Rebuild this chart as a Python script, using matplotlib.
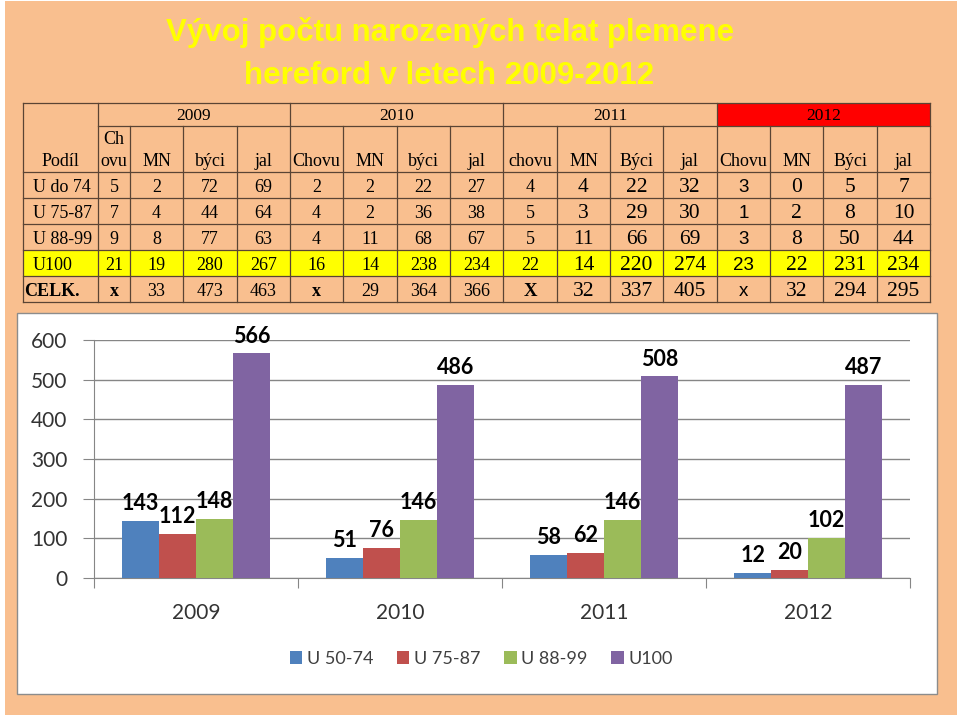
import matplotlib
matplotlib.use('Agg')
import matplotlib.pyplot as plt
from matplotlib.patches import Rectangle
import numpy as np

# --- data -------------------------------------------------------------
years = ['2009', '2010', '2011', '2012']
sub_headers = [['Ch\novu', 'MN', 'býci', 'jal'],
               ['Chovu', 'MN', 'býci', 'jal'],
               ['chovu', 'MN', 'Býci', 'jal'],
               ['Chovu', 'MN', 'Býci', 'jal']]
row_labels = ['U do 74', 'U 75-87', 'U 88-99', 'U100', 'CELK.']
table_rows = [
    ['5', '2', '72', '69', '2', '2', '22', '27', '4', '4', '22', '32', '3', '0', '5', '7'],
    ['7', '4', '44', '64', '4', '2', '36', '38', '5', '3', '29', '30', '1', '2', '8', '10'],
    ['9', '8', '77', '63', '4', '11', '68', '67', '5', '11', '66', '69', '3', '8', '50', '44'],
    ['21', '19', '280', '267', '16', '14', '238', '234', '22', '14', '220', '274', '23', '22', '231', '234'],
    ['x', '33', '473', '463', 'x', '29', '364', '366', 'X', '32', '337', '405', 'x', '32', '294', '295'],
]

series = ['U 50-74', 'U 75-87', 'U 88-99', 'U100']
u50_74 = [143, 51, 58, 12]
u75_87 = [112, 76, 62, 20]
u88_99 = [148, 146, 146, 102]
u100 = [566, 486, 508, 487]
colors = ['#4F81BD', '#C0504D', '#9BBB59', '#8064A2']

peach = '#F9BF8F'
line_c = '#5a4434'

fig = plt.figure(figsize=(9.6, 7.16), dpi=100)
fig.patch.set_facecolor('white')

# background axes in pixel coordinates
bg = fig.add_axes([0, 0, 1, 1])
bg.set_xlim(0, 960)
bg.set_ylim(716, 0)
bg.axis('off')
bg.add_patch(Rectangle((5, 1), 952, 714, facecolor=peach, edgecolor='none'))

# title
bg.text(450, 33, 'Vývoj počtu narozených telat plemene', ha='center', va='center',
        fontsize=22.5, fontweight='bold', color='#FFFF00', family='Liberation Sans')
bg.text(449, 76, 'hereford v letech 2009-2012', ha='center', va='center',
        fontsize=22.5, fontweight='bold', color='#FFFF00', family='Liberation Sans')

# --- table ------------------------------------------------------------
cols = [23, 98, 130, 183, 237, 290, 343, 397, 450, 503, 557, 610, 663, 717, 770, 823, 877, 930]
rows = [103, 126, 172, 198, 224, 250, 276, 302]
serif = 'Liberation Serif'

bg.add_patch(Rectangle((cols[0], rows[5]), cols[-1] - cols[0], rows[6] - rows[5],
                       facecolor='#FFFF00', edgecolor='none'))
bg.add_patch(Rectangle((cols[13], rows[0]), cols[-1] - cols[13], rows[1] - rows[0],
                       facecolor='#FF0000', edgecolor='none'))

lw = 0.9
# horizontal lines
for j, y in enumerate(rows):
    x0 = cols[1] if j == 1 else cols[0]
    bg.plot([x0, cols[-1]], [y, y], color=line_c, lw=lw)
# vertical lines
year_edges = [0, 1, 5, 9, 13, 17]
for i, x in enumerate(cols):
    y0 = rows[0] if i in year_edges else rows[1]
    bg.plot([x, x], [y0, rows[-1]], color=line_c, lw=lw)

# year headers
for k, yr in enumerate(years):
    xc = (cols[1 + 4 * k] + cols[5 + 4 * k]) / 2
    bg.text(xc, 120, yr, ha='center', va='baseline', fontsize=12.5, family=serif)

# sub headers
bg.text((cols[0] + cols[1]) / 2, 166, 'Podíl', ha='center', va='baseline', fontsize=13, family=serif)
for k in range(4):
    for m, h in enumerate(sub_headers[k]):
        c = 1 + 4 * k + m
        xc = (cols[c] + cols[c + 1]) / 2
        if '\n' in h:
            top, bot = h.split('\n')
            bg.text(xc, 144, top, ha='center', va='baseline', fontsize=13, family=serif)
            bg.text(xc, 166, bot, ha='center', va='baseline', fontsize=13, family=serif)
        else:
            bg.text(xc, 166, h, ha='center', va='baseline', fontsize=13, family=serif)

# body
for r, lab in enumerate(row_labels):
    yc = (rows[2 + r] + rows[3 + r]) / 2
    if lab == 'CELK.':
        bg.text(cols[0] + 1, yc + 6.5, lab, ha='left', va='baseline', fontsize=13,
                family=serif, fontweight='bold')
    else:
        bg.text(cols[0] + 10, yc + 6.5, lab, ha='left', va='baseline', fontsize=13, family=serif)
    for c, val in enumerate(table_rows[r]):
        xc = (cols[1 + c] + cols[2 + c]) / 2
        if c == 12:
            # 2012 "Chovu" column typed in a sans font
            bg.text(xc, yc + 6.5, val, ha='center', va='baseline', fontsize=13.5,
                    family='Liberation Sans')
        elif c in (9, 10, 11, 13, 14, 15):
            bg.text(xc, yc + 7.5, val, ha='center', va='baseline', fontsize=15.5, family=serif)
        elif val in ('x', 'X'):
            bg.text(xc, yc + 6.5, val, ha='center', va='baseline', fontsize=13.5 if val == 'X' else 13,
                    family=serif, fontweight='bold')
        else:
            bg.text(xc, yc + 6.5, val, ha='center', va='baseline', fontsize=13, family=serif)

# chart frame
bg.add_patch(Rectangle((17, 313), 920, 381, facecolor='white', edgecolor='#8c8c8c', lw=1))

# --- bar chart ----------------------------------------------------------
ax = fig.add_axes([94 / 960, (716 - 578) / 716, 816 / 960, 238 / 716])
ax.set_facecolor('none')
x = np.arange(len(years)) + 0.5
w = 0.181
grid_c = '#868686'
for i, (name, vals) in enumerate(zip(series, [u50_74, u75_87, u88_99, u100])):
    pos = x + (i - 1.5) * w
    ax.bar(pos, vals, w, color=colors[i], label=name, zorder=3)
    for px, v in zip(pos, vals):
        ax.annotate(str(v), (px, v), xytext=(0, 5), textcoords='offset points',
                    ha='center', va='bottom', fontsize=15.5, fontweight='bold',
                    family='Lato', color='black', annotation_clip=False)

ax.set_xlim(0, 4)
ax.set_ylim(0, 600)
ax.set_yticks(range(0, 601, 100))
ax.yaxis.grid(True, color=grid_c, lw=1)
ax.set_axisbelow(True)
for s in ['top', 'right']:
    ax.spines[s].set_visible(False)
for s in ['left', 'bottom']:
    ax.spines[s].set_color(grid_c)
ax.tick_params(axis='y', direction='out', length=8, color=grid_c, pad=11,
               labelsize=15, labelcolor='#333333')
ax.set_xticks(range(0, 5))
ax.set_xticklabels([])
ax.tick_params(axis='x', which='major', direction='out', length=7, color=grid_c)
ax.set_xticks(x, minor=True)
ax.set_xticklabels(years, minor=True)
ax.tick_params(axis='x', which='minor', length=0, pad=18, labelsize=15, labelcolor='#333333')
for t in ax.get_xticklabels(minor=True) + ax.get_yticklabels():
    t.set_family('Lato')

leg = fig.legend(loc='center', bbox_to_anchor=(481 / 960, 1 - 659 / 716), ncol=4, frameon=False,
                 prop={'family': 'Lato', 'size': 13}, handlelength=0.7, handleheight=0.7,
                 handletextpad=0.25, columnspacing=1.3, labelcolor='#404040')

fig.savefig('out.png', dpi=100, facecolor=fig.get_facecolor())
